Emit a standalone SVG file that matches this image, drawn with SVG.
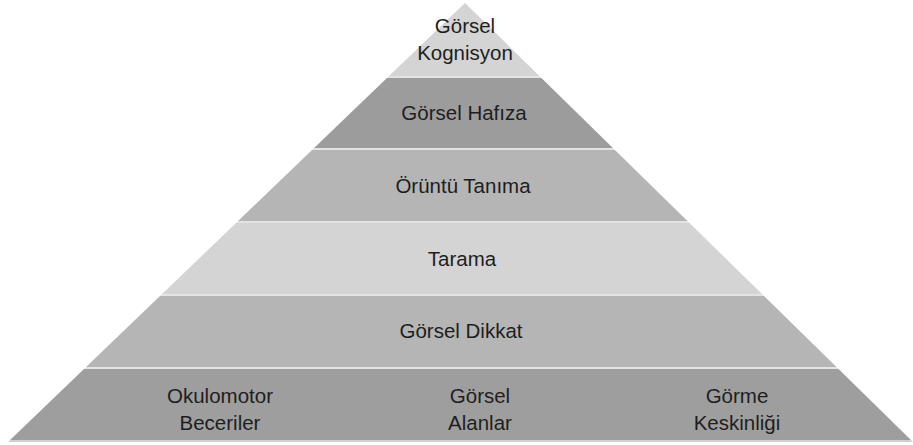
<svg xmlns="http://www.w3.org/2000/svg" width="913" height="445" viewBox="0 0 913 445">
<style>
  .lbl { font-family: "Liberation Sans", Arial, sans-serif; font-size: 20.5px; fill: #1e1e1e; text-anchor: middle; }
  .sep { fill: #e3e3e3; }
  .band { clip-path: url(#tri); }
</style>
<defs>
  <clipPath id="tri">
    <polygon points="465,3 913,442 8,442"/>
  </clipPath>
</defs>
<rect width="913" height="445" fill="#ffffff"/>
<g id="level-kognisyon">
  <rect class="band" x="0" y="0" width="913" height="76" fill="#d4d4d4"/>
  <text class="lbl" x="465" y="33">Görsel</text>
  <text class="lbl" x="465" y="60">Kognisyon</text>
</g>
<g id="level-hafiza">
  <rect class="band" x="0" y="78" width="913" height="70" fill="#9c9c9c"/>
  <text class="lbl" x="464" y="120">Görsel Hafıza</text>
</g>
<g id="level-oruntu">
  <rect class="band" x="0" y="150" width="913" height="71" fill="#b5b5b5"/>
  <text class="lbl" x="463" y="193">Örüntü Tanıma</text>
</g>
<g id="level-tarama">
  <rect class="band" x="0" y="223" width="913" height="71" fill="#d4d4d4"/>
  <text class="lbl" x="462" y="266">Tarama</text>
</g>
<g id="level-dikkat">
  <rect class="band" x="0" y="296" width="913" height="71" fill="#b5b5b5"/>
  <text class="lbl" x="461" y="338">Görsel Dikkat</text>
</g>
<g id="level-temel">
  <rect class="band" x="0" y="369" width="913" height="71" fill="#9e9e9e"/>
  <text class="lbl" x="220" y="403">Okulomotor</text>
  <text class="lbl" x="220" y="430">Beceriler</text>
  <text class="lbl" x="480" y="403">Görsel</text>
  <text class="lbl" x="480" y="430">Alanlar</text>
  <text class="lbl" x="737" y="403">Görme</text>
  <text class="lbl" x="737" y="430">Keskinliği</text>
</g>
<g id="separators" clip-path="url(#tri)">
  <rect class="sep" x="0" y="76" width="913" height="2"/>
  <rect class="sep" x="0" y="148" width="913" height="2"/>
  <rect class="sep" x="0" y="221" width="913" height="2"/>
  <rect class="sep" x="0" y="294" width="913" height="2"/>
  <rect class="sep" x="0" y="367" width="913" height="2"/>
  <rect x="0" y="440" width="913" height="2" fill="#d0d0d0"/>
</g>
</svg>
